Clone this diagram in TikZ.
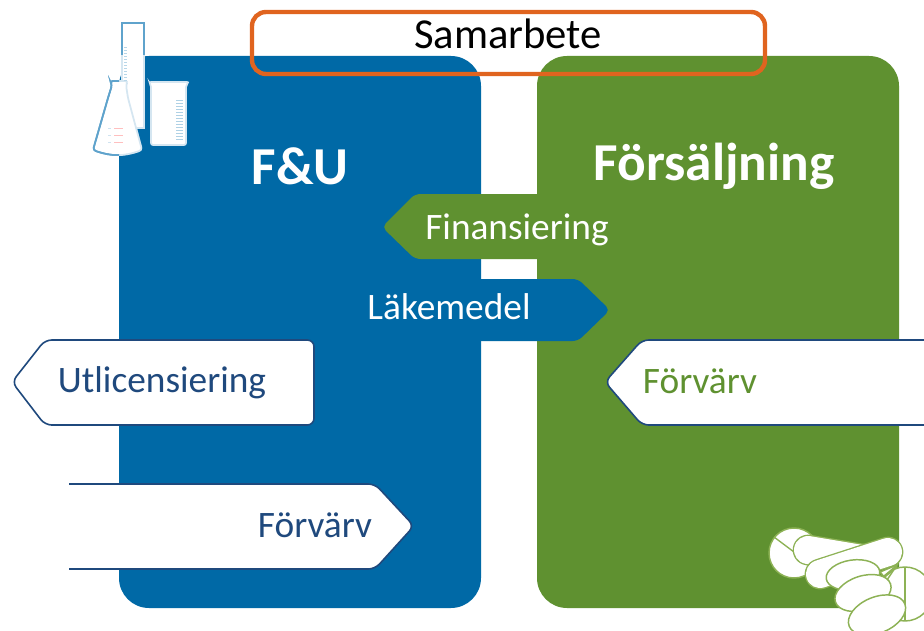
\documentclass[tikz,border=0pt]{standalone}
\usepackage{fontspec}
\setmainfont{Carlito}
\definecolor{rdblue}{HTML}{0069A6}
\definecolor{salesgreen}{HTML}{5F9130}
\definecolor{orangeline}{HTML}{E0641F}
\definecolor{navy}{HTML}{1F497D}
\definecolor{pillline}{HTML}{8DB255}
\definecolor{glassline}{HTML}{5FA3CC}
\definecolor{glasspale}{HTML}{D5E6F1}
\def\cylpath{(122,23) -- (122,128) -- (144,128) -- (144,23) -- cycle}
\def\flaskpath{[rounded corners=2pt] (110,81) -- (128,81) -- (126,85) -- (128,98) -- (142,150) to[out=-160,in=-20] (93,150) -- (108,98) -- (112,85) -- cycle}
\tikzset{
 x=0.75pt,y=-0.75pt,
 panel/.style={rounded corners=22.5pt},
 lbl/.style={inner sep=0pt,anchor=center,font=\fontsize{28}{32}\selectfont},
 head/.style={inner sep=0pt,anchor=center,text=white,font=\bfseries\fontsize{40}{44}\selectfont},
 pill/.style={draw=pillline,fill=white,line width=1.1pt},
 pilledge/.style={line cap=round,draw=pillline,line width=23pt},
 pillcore/.style={line cap=round,draw=white,line width=21pt},
 glass/.style={fill=white,line width=1.3pt},
 whitearrow/.style={draw=navy,fill=white,line width=1.2pt},
}
\begin{document}
\begin{tikzpicture}
\useasboundingbox (0,0) rectangle (924,631);
\fill[white] (0,0) rectangle (924,631);
% panels
\fill[rdblue,panel] (119,56) rectangle (481,608);
\fill[salesgreen,panel] (537,56) rectangle (899,608);
% pills
\begin{scope}
\clip (0,0) rectangle (924,631);
\draw[pill] (794,553) circle (25);
\draw[pillline,line width=1pt] (774,537) -- (794,552);
\draw[pill] (905,594) circle (27);
\draw[pillline,line width=1pt] (905,567) -- (905,621);
\draw[pilledge] (808,550) -- (868,560);
\draw[pillcore] (808,550) -- (868,560);
\draw[pilledge] (820,574) -- (888,552);
\draw[pillcore] (820,574) -- (888,552);
\draw[pill] (880,572) -- (897,565) -- (887,580) -- cycle;
\draw[pillline,line width=2pt] (879,581) -- (897,566);
\draw[pill,rotate around={8:(853,575)}] (853,575) ellipse (27 and 15);
\draw[pill,rotate around={18:(863,593)}] (863,593) ellipse (29 and 17);
\draw[pill,rotate around={22:(877,615)}] (877,615) ellipse (30 and 18);
\end{scope}
% glassware
\draw[glass,draw=glassline] \cylpath;
\draw[glass,draw=glassline] \flaskpath;
\begin{scope}
\clip (119,56) rectangle (300,300);
\draw[glass,draw=glasspale] \cylpath;
\draw[glass,draw=glasspale] \flaskpath;
\end{scope}
\begin{scope}
\clip (0,0) rectangle (119,300);
\draw[glassline,line width=1.3pt] \flaskpath;
\end{scope}
\foreach \yy in {47,50,...,80}{\draw[glassline!45,line width=0.4pt] (124,\yy) -- (127,\yy);}
\foreach \yy in {128,135,142}{\draw[red!25,line width=0.4pt] (114,\yy) -- (123,\yy);\draw[glassline!30,line width=0.4pt] (108,\yy) -- (111,\yy);}
\draw[glass,draw=glasspale,rounded corners=1.5pt] (149,82) -- (189,82) -- (186,85) -- (186,145) -- (151,145) -- (151,85) -- cycle;
\foreach \yy in {100,103,...,140}{\draw[glassline!50,line width=0.5pt] (176,\yy) -- (183,\yy);}
% blue/green arrows
\fill[salesgreen,rounded corners=4pt] (608,194) -- (415,194) -- (382,227) -- (415,259) -- (608,259) -- cycle;
\fill[rdblue,rounded corners=4pt] (355,279) -- (578,279) -- (610,310) -- (578,341) -- (355,341) -- cycle;
% white arrows
\draw[whitearrow,rounded corners=5pt] (314,340) -- (45,340) -- (12,382) -- (45,425) -- (314,425) -- cycle;
\fill[white,rounded corners=5pt] (69,484) -- (375,484) -- (414,526) -- (375,569) -- (69,569) -- cycle;
\fill[white] (69,484) rectangle (100,569);
\draw[whitearrow,rounded corners=5pt,fill=none] (69,484) -- (375,484) -- (414,526) -- (375,569) -- (69,569);
\draw[whitearrow,rounded corners=5pt] (930,340) -- (642,340) -- (605,382) -- (642,425) -- (930,425);
% Samarbete
\draw[orangeline,line width=3.3pt,rounded corners=10.5pt] (252,12) rectangle (765,74);
% texts
\node[lbl,text=black,font=\fontsize{32}{36}\selectfont] (sam) at (508,34) {Samarbete};
\node[head] (fou) at (300,166) {F\&U};
\node[head] (sales) at (714,166) {Försäljning};
\node[lbl,text=white] (fin) at (517,230) {Finansiering};
\node[lbl,text=white] (lak) at (449,307) {Läkemedel};
\node[lbl,text=navy] (utl) at (162,383) {Utlicensiering};
\node[lbl,text=navy] (forv1) at (315,525) {Förvärv};
\node[lbl,text=salesgreen] (forv2) at (700,381) {Förvärv};
\end{tikzpicture}
\end{document}
